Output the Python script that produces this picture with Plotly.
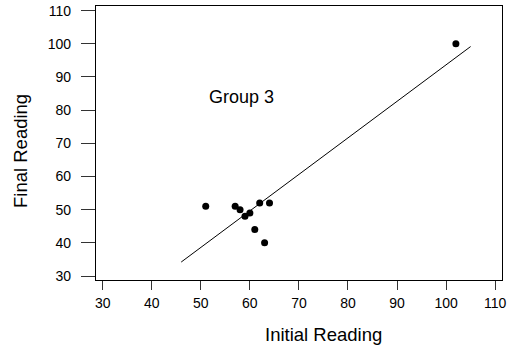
import numpy as np
import plotly.graph_objects as go

initial = [51, 57, 58, 59, 60, 62, 64, 61, 63, 102]
final = [51, 51, 50, 48, 49, 52, 52, 44, 40, 100]
fit_x = [46, 105]
ticks = [30, 40, 50, 60, 70, 80, 90, 100, 110]
label = "Group 3"
x_title = "Initial Reading"
y_title = "Final Reading"

slope, intercept = np.polyfit(initial, final, 1)
fit_y = [slope * v + intercept for v in fit_x]

font = "Arial, Liberation Sans, sans-serif"
fig = go.Figure()
fig.add_trace(go.Scatter(x=fit_x, y=fit_y, mode="lines",
                         line=dict(color="black", width=1), hoverinfo="skip"))
fig.add_trace(go.Scatter(x=initial, y=final, mode="markers",
                         marker=dict(color="black", size=7)))
fig.add_annotation(x=58.2, y=84, text=label, showarrow=False,
                   font=dict(family=font, size=18, color="black"))
fig.add_annotation(x=0.560, y=-0.2007, xref="paper", yref="paper", text=x_title,
                   showarrow=False, xanchor="center", yanchor="middle",
                   font=dict(family=font, size=18.5, color="black"))
fig.add_annotation(x=-0.1872, y=0.4708, xref="paper", yref="paper", text=y_title,
                   showarrow=False, xanchor="center", yanchor="middle", textangle=-90,
                   font=dict(family=font, size=18.5, color="black"))
fig.update_layout(
    width=511, height=354, showlegend=False,
    margin=dict(l=96, r=9, t=6, b=74),
    plot_bgcolor="white", paper_bgcolor="white",
    font=dict(family=font, color="black", size=14),
)
fig.update_xaxes(range=[28.63, 111.4], tickvals=ticks, ticks="outside", ticklen=9,
                 tickcolor="#333", showline=True, linecolor="black", linewidth=1.3, mirror=True,
                 showgrid=False, zeroline=False, automargin=False, ticklabelstandoff=1)
fig.update_yaxes(range=[28.8, 111.4], tickvals=ticks, ticks="outside", ticklen=14,
                 tickcolor="#333", showline=True, linecolor="black", linewidth=1.3, mirror=True,
                 showgrid=False, zeroline=False, automargin=False, ticklabelstandoff=7)
fig.write_html("out.html", post_script="document.body.style.margin='0';",
               config={"displayModeBar": False})
